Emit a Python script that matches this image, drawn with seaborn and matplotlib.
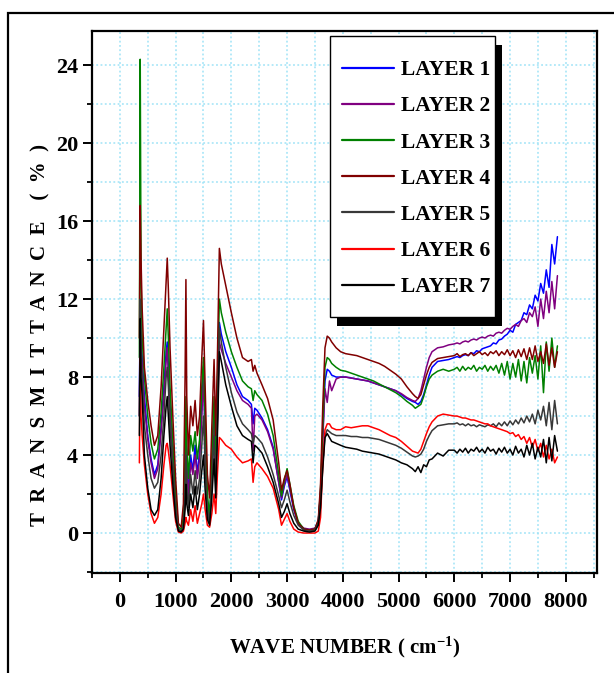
import numpy as np
import pandas as pd
import matplotlib
matplotlib.use("Agg")
import matplotlib.pyplot as plt
import seaborn as sns
from matplotlib.patches import Rectangle
from matplotlib.lines import Line2D
from matplotlib.ticker import MultipleLocator

# ---------------- data ----------------
WAVENUMBER = [
    350, 365, 380, 400, 440, 500, 560, 620, 680, 740,
    790, 830, 850, 870, 900, 950, 1000, 1050, 1100, 1140,
    1170, 1185, 1200, 1230, 1270, 1310, 1350, 1390, 1430, 1470,
    1500, 1530, 1570, 1610, 1650, 1690, 1720, 1750, 1785, 1820,
    1900, 2000, 2100, 2200, 2300, 2360, 2390, 2420, 2460, 2550,
    2650, 2750, 2850, 2900, 2950, 3000, 3050, 3120, 3200, 3300,
    3400, 3500, 3560, 3600, 3640, 3680, 3720, 3760, 3800, 3880, 3960,
    4050, 4150, 4250, 4350, 4450, 4550, 4650, 4750, 4850, 4950,
    5050, 5150, 5250, 5300, 5350, 5400, 5450, 5500, 5550, 5600,
    5700, 5800, 5900,
    6000, 6050, 6100, 6150, 6200, 6250, 6300, 6350, 6400, 6450,
    6500, 6550, 6600, 6650, 6700, 6750, 6800, 6850, 6900, 6950,
    7000, 7050, 7100, 7150, 7200, 7250, 7300, 7350, 7400, 7450,
    7500, 7550, 7600, 7650, 7700, 7750, 7800, 7850,
]

LAYER_1 = [
    7, 11.8, 10, 9, 7, 5, 3.8, 3.0, 3.5, 5.5,
    7.5, 9.3, 9.8, 8.5, 6.5, 4, 1.5, 0.2, 0.1, 0.5,
    3, 6, 3.5, 2.0, 4.0, 3.2, 4.5, 3.0, 4.2, 6.5,
    8.5, 5.0, 1.5, 0.6, 3.0, 6.0, 3.0, 6.0, 10.8, 10.2,
    9.3, 8.5, 7.6, 7.0, 6.8, 6.6, 5.6, 6.4, 6.3, 5.9,
    5.3, 4.4, 2.6, 1.7, 2.4, 2.9, 2.2, 1.2, 0.5, 0.2,
    0.15, 0.2, 0.6, 2.0, 5.0, 7.8, 8.4, 8.3, 8.1, 8.0, 8.0,
    8.0, 7.95, 7.9, 7.85, 7.8, 7.7, 7.6, 7.5, 7.4, 7.3,
    7.1, 6.9, 6.75, 6.7, 6.6, 6.75, 7.1, 7.6, 8.1, 8.5,
    8.8, 8.85, 8.9,
    9.0, 9.05, 9.0, 9.1, 9.15, 9.1, 9.25, 9.2, 9.35, 9.3,
    9.45, 9.5, 9.55, 9.6, 9.75, 9.7, 9.9, 9.95, 10.1, 10.2,
    10.4, 10.3, 10.7, 10.8, 10.9, 11.3, 11.2, 11.7, 11.5, 12.2,
    11.9, 12.8, 12.3, 13.5, 12.6, 14.8, 13.8, 15.2,
]

LAYER_2 = [
    6, 11, 9.5, 8.5, 6.5, 4.8, 3.6, 2.8, 3.3, 5.2,
    7.0, 8.8, 9.5, 8.2, 6.3, 3.8, 1.4, 0.2, 0.1, 0.4,
    2.8, 5.5, 3.3, 1.9, 3.6, 3.0, 4.0, 2.8, 3.8, 6.0,
    8.0, 4.8, 1.4, 0.6, 2.8, 5.6, 2.8, 5.5, 9.8, 9.4,
    8.7, 8.0, 7.3, 6.8, 6.6, 6.4, 4.2, 6.0, 6.1, 5.8,
    5.2, 4.3, 2.6, 1.8, 2.5, 3.0, 2.3, 1.3, 0.5, 0.25,
    0.2, 0.25, 0.6, 2.0, 4.8, 7.4, 6.7, 7.8, 7.3, 7.9, 8.0,
    8.0, 7.95, 7.9, 7.85, 7.8, 7.7, 7.6, 7.5, 7.4, 7.3,
    7.15, 6.95, 6.8, 6.75, 6.9, 7.3, 7.9, 8.5, 9.0, 9.3,
    9.5, 9.55, 9.65,
    9.7, 9.75, 9.7, 9.8, 9.85, 9.8, 9.9, 9.95, 9.9, 10.0,
    10.05, 10.0, 10.1, 10.15, 10.1, 10.25, 10.3, 10.25, 10.4, 10.5,
    10.45, 10.6, 10.7, 10.6, 10.9, 11.0, 10.8, 11.3, 11.1, 11.6,
    10.6, 12.0, 11.0, 12.4, 11.3, 12.9, 11.5, 13.2,
]

LAYER_3 = [
    9, 24.3, 13, 10, 8, 6, 4.6, 3.8, 4.3, 6.2,
    8.5, 10.5, 11.5, 10, 7.5, 4.8, 2, 0.3, 0.2, 0.8,
    4, 7, 4.5, 2.8, 5.0, 4.2, 5.2, 3.8, 4.8, 7.5,
    9.0, 6.0, 2.0, 0.8, 4.0, 7.0, 4.0, 7.5, 12.0, 11.3,
    10.3, 9.3, 8.5, 7.8, 7.5, 7.4, 6.8, 7.3, 7.1, 6.8,
    6.1, 5.0, 3.0, 1.9, 2.7, 3.3, 2.5, 1.4, 0.6, 0.2,
    0.15, 0.2, 0.6, 2.2, 5.5, 8.5, 9.0, 8.9, 8.7, 8.5, 8.35,
    8.3, 8.2, 8.1, 8.0, 7.9, 7.8, 7.65, 7.5, 7.35, 7.2,
    7.0, 6.75, 6.55, 6.4, 6.5, 6.6, 7.0, 7.5, 7.9, 8.1,
    8.3, 8.4, 8.3,
    8.4, 8.5, 8.3, 8.55, 8.35, 8.5, 8.4, 8.6, 8.3, 8.5,
    8.4, 8.6, 8.3, 8.55, 8.35, 8.6, 8.2, 8.7, 8.1, 8.8,
    7.9, 8.7, 8.0, 8.9, 7.8, 8.8, 7.7, 9.0, 8.2, 9.1,
    7.9, 9.6, 7.2, 9.8, 8.3, 10.0, 8.5, 9.6,
]

LAYER_4 = [
    10, 16.8, 14, 11.5, 8.5, 6.8, 5.5, 4.5, 5.0, 7.5,
    10.5, 13.0, 14.1, 12.5, 9.5, 6, 2.8, 0.5, 0.3, 1.5,
    8, 13.0, 7, 4.0, 6.5, 5.5, 6.8, 5.0, 6.0, 9.0,
    10.9, 7.5, 3.0, 1.8, 5.5, 8.9, 5.0, 9.0, 14.6, 13.8,
    12.7, 11.3, 10.0, 9.0, 8.8, 8.9, 8.3, 8.6, 8.2, 7.6,
    6.9, 5.8, 3.6, 2.2, 2.8, 3.2, 2.5, 1.3, 0.5, 0.2,
    0.15, 0.2, 0.7, 2.5, 6.5, 9.5, 10.1, 10.0, 9.8, 9.5, 9.3,
    9.2, 9.15, 9.1, 9.0, 8.9, 8.8, 8.7, 8.55, 8.35, 8.15,
    7.9, 7.5, 7.15, 7.0, 6.9, 7.1, 7.6, 8.1, 8.5, 8.75,
    8.95, 9.0, 9.05,
    9.1, 9.2, 9.05, 9.15, 9.2, 9.1, 9.25, 9.1, 9.2, 9.3,
    9.15, 9.25, 9.1, 9.3, 9.2, 9.35, 9.1, 9.3, 9.15, 9.4,
    9.1, 9.35, 9.0, 9.4, 9.05, 9.45, 8.9, 9.5, 8.9, 9.6,
    8.8, 9.3, 8.7, 9.7, 8.6, 9.5, 8.5, 9.3,
]

LAYER_5 = [
    6, 12, 9, 8, 5.5, 4, 2.8, 2.3, 2.6, 4.0,
    6.0, 8.0, 8.5, 7.5, 5.5, 3.3, 1.2, 0.2, 0.1, 0.3,
    2, 4, 2.5, 1.3, 3.0, 2.0, 3.2, 2.0, 2.8, 4.5,
    6.0, 3.5, 1.0, 0.5, 2.5, 5.0, 2.5, 6.0, 10.5, 9.8,
    8.5, 7.2, 6.2, 5.6, 5.3, 5.1, 4.6, 5.0, 4.9, 4.6,
    3.9, 3.0, 1.9, 1.3, 1.7, 2.2, 1.6, 0.9, 0.4, 0.15,
    0.1, 0.15, 0.5, 1.5, 3.5, 5.0, 5.3, 5.2, 5.1, 5.0, 5.0,
    5.0, 4.95, 4.95, 4.9, 4.9, 4.85, 4.8, 4.7, 4.6, 4.5,
    4.35, 4.15, 3.95, 3.9, 3.95, 4.05, 4.3, 4.7, 5.0, 5.25,
    5.5, 5.55, 5.6,
    5.6, 5.65, 5.55, 5.6, 5.5, 5.6, 5.5, 5.55, 5.45, 5.55,
    5.5, 5.45, 5.55, 5.5, 5.6, 5.45, 5.65, 5.5, 5.7, 5.5,
    5.75, 5.55, 5.8, 5.6, 5.9, 5.65, 6.0, 5.7, 6.1, 5.6,
    6.3, 5.8, 6.5, 5.5, 6.7, 5.3, 6.8, 5.6,
]

LAYER_6 = [
    3.6, 9.0, 6.0, 5.0, 3.5, 2.0, 1.0, 0.5, 0.8, 2.0,
    3.5, 4.5, 4.6, 4.2, 3.5, 2.0, 0.6, 0.05, 0.0, 0.1,
    0.5, 0.8, 0.6, 0.4, 1.2, 0.6, 1.4, 0.5, 1.0, 1.5,
    2.0, 1.2, 0.4, 0.3, 1.0, 2.0, 1.0, 3.0, 4.9, 4.8,
    4.5, 4.3, 3.9, 3.6, 3.7, 3.8, 2.6, 3.4, 3.6, 3.3,
    2.9, 2.3, 1.2, 0.4, 0.7, 1.0, 0.6, 0.2, 0.05, 0.0,
    0.0, 0.0, 0.1, 0.8, 3.5, 5.3, 5.6, 5.6, 5.4, 5.3, 5.3,
    5.45, 5.4, 5.45, 5.5, 5.5, 5.4, 5.3, 5.15, 5.0, 4.9,
    4.7, 4.45, 4.2, 4.15, 4.1, 4.3, 4.7, 5.1, 5.45, 5.7,
    6.0, 6.1, 6.05,
    6.0, 6.0, 5.95, 5.9, 5.9, 5.85, 5.8, 5.8, 5.75, 5.7,
    5.65, 5.6, 5.6, 5.5, 5.45, 5.4, 5.35, 5.3, 5.25, 5.2,
    5.1, 5.15, 4.95, 5.05, 4.8, 4.95, 4.6, 4.9, 4.4, 4.8,
    4.2, 4.6, 3.9, 4.5, 3.8, 4.3, 3.6, 3.9,
]

LAYER_7 = [
    5, 11, 8, 7, 4, 2.3, 1.2, 0.9, 1.2, 2.8,
    5.0, 6.5, 7.0, 6.0, 4.5, 2.5, 0.8, 0.1, 0.05, 0.2,
    1.2, 2.5, 1.5, 0.9, 2.0, 1.3, 2.4, 1.2, 2.0, 3.2,
    4.0, 2.2, 0.7, 0.4, 1.8, 3.8, 1.8, 5.0, 9.3, 8.8,
    7.6, 6.5, 5.5, 5.0, 4.8, 4.7, 3.6, 4.5, 4.4, 4.1,
    3.4, 2.6, 1.5, 0.8, 1.1, 1.5, 1.0, 0.5, 0.2, 0.1,
    0.05, 0.1, 0.4, 1.3, 3.3, 4.9, 5.1, 4.9, 4.7, 4.6, 4.5,
    4.4, 4.35, 4.3, 4.2, 4.15, 4.1, 4.05, 3.95, 3.85, 3.75,
    3.6, 3.5, 3.3, 3.15, 3.4, 3.1, 3.5, 3.4, 3.75, 3.8,
    4.1, 3.95, 4.25,
    4.25, 4.1, 4.3, 4.15, 4.35, 4.1, 4.3, 4.2, 4.4, 4.15,
    4.3, 4.1, 4.4, 4.2, 4.3, 4.05, 4.35, 4.15, 4.4, 4.1,
    4.3, 4.0, 4.45, 4.1, 4.3, 3.9, 4.5, 4.0, 4.6, 3.8,
    4.4, 3.9, 4.8, 3.6, 4.9, 3.7, 5.0, 4.2,
]

LABELS = ["LAYER 1", "LAYER 2", "LAYER 3", "LAYER 4", "LAYER 5", "LAYER 6", "LAYER 7"]
COLORS = ["#0000FF", "#800080", "#008000", "#800000", "#383838", "#FF0000", "#000000"]
SERIES = [LAYER_1, LAYER_2, LAYER_3, LAYER_4, LAYER_5, LAYER_6, LAYER_7]

X_TICKS = [0, 1000, 2000, 3000, 4000, 5000, 6000, 7000, 8000]
Y_TICKS = [0, 4, 8, 12, 16, 20, 24]

for s in SERIES:
    assert len(s) == len(WAVENUMBER), len(s)

frames = []
for lab, vals in zip(LABELS, SERIES):
    frames.append(pd.DataFrame({"wavenumber": WAVENUMBER,
                                "transmittance": vals,
                                "layer": lab}))
df = pd.concat(frames, ignore_index=True)

# ---------------- style ----------------
sns.set_theme(style="white")
plt.rcParams["font.family"] = ["Liberation Serif", "DejaVu Serif"]
plt.rcParams["font.weight"] = "bold"
plt.rcParams["text.color"] = "black"
plt.rcParams["axes.labelcolor"] = "black"
plt.rcParams["xtick.color"] = "black"
plt.rcParams["ytick.color"] = "black"
plt.rcParams["mathtext.fontset"] = "custom"
plt.rcParams["mathtext.rm"] = "Liberation Serif:bold"
plt.rcParams["mathtext.bf"] = "Liberation Serif:bold"
plt.rcParams["mathtext.it"] = "Liberation Serif:bold"
plt.rcParams["mathtext.default"] = "rm"

W, H = 614, 673
fig = plt.figure(figsize=(W / 100, H / 100), dpi=100)
fig.patch.set_facecolor("white")
L, R, T, B = 92, 597, 31, 573
ax = fig.add_axes([L / W, 1 - B / H, (R - L) / W, (B - T) / H])
ax.set_facecolor("white")

def px_to_axes(px, py):
    return (px - L) / (R - L), (B - py) / (B - T)

sns.lineplot(data=df, x="wavenumber", y="transmittance", hue="layer",
             palette=dict(zip(LABELS, COLORS)), hue_order=LABELS,
             estimator=None, sort=False, linewidth=1.1, legend=False, ax=ax)

ax.set_xlim(-500, 8560)
ax.set_ylim(-2.05, 25.75)
ax.xaxis.set_minor_locator(MultipleLocator(500))
ax.yaxis.set_minor_locator(MultipleLocator(2))
ax.set_xticks(X_TICKS)
ax.set_yticks(Y_TICKS)
ax.set_xticklabels([str(v) for v in X_TICKS])
ax.set_yticklabels([str(v) for v in Y_TICKS])

ax.set_axisbelow(True)
ax.grid(which="both", color="#9fe3f7", linestyle=(0, (1.2, 1.6)), linewidth=1.1)

for sp in ax.spines.values():
    sp.set_color("black")
    sp.set_linewidth(1.6)
    sp.set_visible(True)

ax.tick_params(which="major", direction="out", length=6.5, width=1.4,
               color="black", labelcolor="black", labelsize=16, pad=7.5,
               bottom=True, left=True)
ax.tick_params(axis="y", which="major", pad=3.5)
ax.tick_params(which="minor", direction="out", length=3.6, width=1.3,
               color="black", bottom=True, left=True)

ax.set_xlabel(r"WAVE NUMBER ( cm$^{\mathregular{-1}}$)", fontsize=15,
              fontweight="bold", color="black")
ax.set_ylabel("T  R  A  N  S  M  I  T  T  A  N  C  E    (  %  )", fontsize=15,
              fontweight="bold", color="black")
ax.xaxis.set_label_coords(0.5, -0.114)
ax.yaxis.set_label_coords(-0.082, 0.44)

# legend: frame + shadow drawn at the reference position, entries inside
fx0, fy_top = px_to_axes(330, 36)
fx1, fy_bot = px_to_axes(495, 317)
sdx, sdy = 7 / (R - L), 9 / (B - T)
ax.add_patch(Rectangle((fx0 + sdx, fy_bot - sdy), fx1 - fx0, fy_top - fy_bot,
                       transform=ax.transAxes, facecolor="black", edgecolor="none",
                       zorder=4.8, clip_on=False))
ax.add_patch(Rectangle((fx0, fy_bot), fx1 - fx0, fy_top - fy_bot,
                       transform=ax.transAxes, facecolor="white", edgecolor="black",
                       linewidth=1.0, zorder=4.9, clip_on=False))

handles = [Line2D([0], [0], color=c, lw=1.6) for c in COLORS]
ax_x, ax_y = px_to_axes(342, 60)
leg = ax.legend(handles, LABELS, loc="upper left", bbox_to_anchor=(ax_x, ax_y),
                borderaxespad=0, frameon=False, fontsize=15.5, handlelength=2.42,
                handletextpad=0.3, labelspacing=0.75, borderpad=0.0)
leg.set_zorder(5)
for t in leg.get_texts():
    t.set_fontweight("bold")
    t.set_color("black")

# outer frame of the picture
fig.add_artist(Rectangle((8 / W, -0.05), 1.2, 1.05 - 13 / H, transform=fig.transFigure,
                         fill=False, edgecolor="black", linewidth=1.6))

fig.savefig("out.png", dpi=100)
